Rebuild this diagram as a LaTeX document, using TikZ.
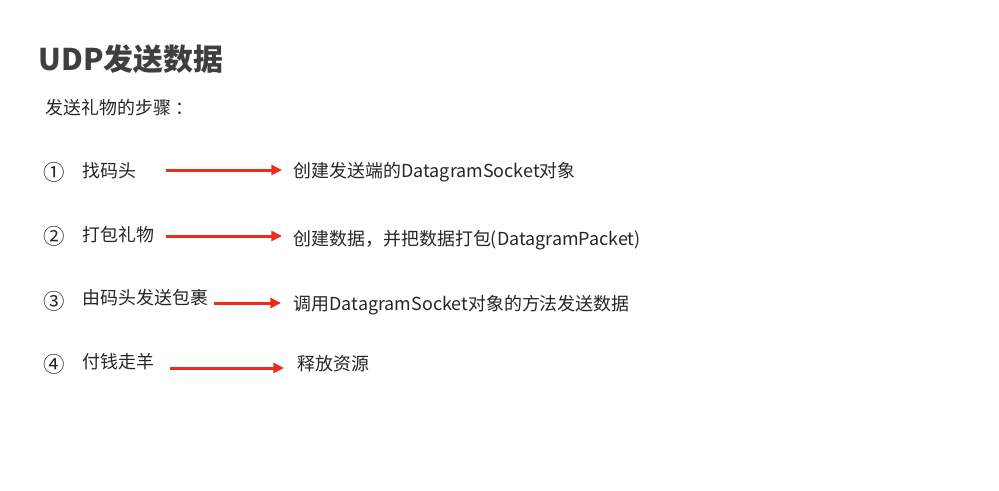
\documentclass[tikz,border=0pt]{standalone}
\usepackage{fontspec}
\setmainfont{Noto Sans CJK SC}
\usetikzlibrary{arrows.meta}
\usepackage{xcolor}
\definecolor{titlegray}{HTML}{3F3F3F}
\definecolor{textgray}{HTML}{262626}
\definecolor{arrowred}{HTML}{EE2A1B}
\tikzset{
  titletext/.style={anchor=west, inner sep=0pt, text=titlegray,
                    font=\fontsize{8.5pt}{10pt}\selectfont\bfseries},
  bodytext/.style={anchor=west, inner sep=0pt, text=textgray,
                   font=\fontsize{5.1pt}{6pt}\selectfont},
  stepnum/.style={inner sep=0pt, text=textgray,
                  font=\fontsize{6.1pt}{7pt}\selectfont},
  redarrow/.style={-{Triangle[length=3pt, width=2.8pt]},
                   line width=0.85pt, draw=arrowred},
}

\begin{document}
\begin{tikzpicture}[x=0.01cm, y=-0.01cm]   %% one unit = one pixel of the slide

  \useasboundingbox[fill=white] (0,0) rectangle (999,490);

  %% ── Heading ──────────────────────────────────────────────────────────────
  \node[titletext] (title) at (38,59)  {UDP发送数据};
  \node[bodytext]  (intro) at (45,108) {发送礼物的步骤\hspace{0.25em}：};

  %% ── Step numbers ─────────────────────────────────────────────────────────
  \node[stepnum] (n1) at (54,172) {①};
  \node[stepnum] (n2) at (54,236) {②};
  \node[stepnum] (n3) at (54,301) {③};
  \node[stepnum] (n4) at (54,364) {④};

  %% ── Left column: the gift steps ──────────────────────────────────────────
  \node[bodytext] (s1) at (82,171) {找码头};
  \node[bodytext] (s2) at (82,235) {打包礼物};
  \node[bodytext] (s3) at (82,298) {由码头发送包裹};
  \node[bodytext] (s4) at (82,362) {付钱走羊};

  %% ── Right column: what the code does ─────────────────────────────────────
  \node[bodytext] (t1) at (293,172) {创建发送端的DatagramSocket对象};
  \node[bodytext] (t2) at (293,240) {创建数据，并把数据打包(DatagramPacket)};
  \node[bodytext] (t3) at (293,305) {调用DatagramSocket对象的方法发送数据};
  \node[bodytext] (t4) at (297,364) {释放资源};

  %% ── Arrow ends ───────────────────────────────────────────────────────────
  \coordinate (a1) at (166,170);  \coordinate (b1) at (282,170);
  \coordinate (a2) at (166,236);  \coordinate (b2) at (282,236);
  \coordinate (a3) at (214,303);  \coordinate (b3) at (281,303);
  \coordinate (a4) at (170,368);  \coordinate (b4) at (284,368);

  %% ── Arrows ───────────────────────────────────────────────────────────────
  \foreach \i in {1,...,4}
    \draw[redarrow] (a\i) -- (b\i);

\end{tikzpicture}
\end{document}
